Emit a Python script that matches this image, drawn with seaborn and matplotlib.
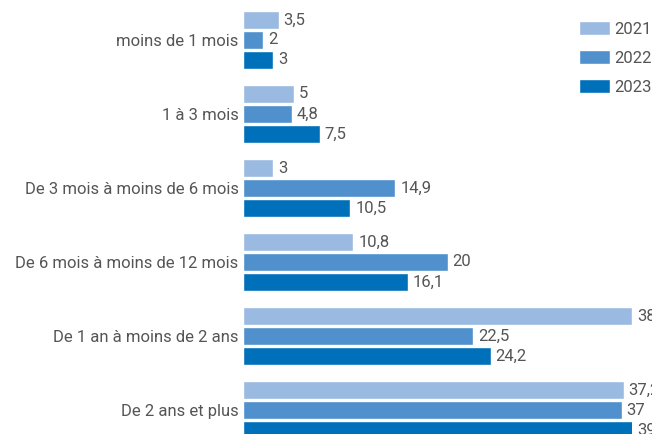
import matplotlib
matplotlib.use("Agg")
import matplotlib.pyplot as plt
import seaborn as sns
import pandas as pd

categories = ["moins de 1 mois", "1 à 3 mois", "De 3 mois à moins de 6 mois",
              "De 6 mois à moins de 12 mois", "De 1 an à moins de 2 ans", "De 2 ans et plus"]
years = ["2021", "2022", "2023"]
v2021 = [3.5, 5, 3, 10.8, 38, 37.2]
v2022 = [2, 4.8, 14.9, 20, 22.5, 37]
v2023 = [3, 7.5, 10.5, 16.1, 24.2, 39]
colors = ["#9BBAE1", "#4F90CD", "#0070BA"]

rows = []
for y, vals in zip(years, [v2021, v2022, v2023]):
    for c, v in zip(categories, vals):
        rows.append({"cat": c, "year": y, "val": v})
df = pd.DataFrame(rows)

sns.set_theme(style="white")
plt.rcParams["font.family"] = ["Roboto", "DejaVu Sans"]
txt = "#555555"
fs = 12

fig = plt.figure(figsize=(6.52, 4.34), dpi=100)
ax = fig.add_axes([242.7 / 652, 0, (632 - 242.7) / 652, 1])
sns.barplot(data=df, y="cat", x="val", hue="year", hue_order=years, order=categories,
            palette=colors, orient="h", width=0.81, gap=0.1, ax=ax, legend=True,
            saturation=1, err_kws={"linewidth": 0})
xmax = 38
ax.set_xlim(0, xmax)
ax.set_ylim(5.324, -0.54)
for s in ax.spines.values():
    s.set_visible(False)
ax.set_xticks([])
ax.set_xlabel("")
ax.set_ylabel("")
ax.tick_params(axis="y", length=0, pad=3, labelsize=fs, labelcolor=txt)

for cont in ax.containers:
    for bar in cont:
        w = bar.get_width()
        yc = bar.get_y() + bar.get_height() / 2
        lab = f"{w:g}".replace(".", ",")
        ax.annotate(lab, (min(w, xmax), yc), xytext=(3.5, 0), textcoords="offset points",
                    ha="left", va="center", fontsize=fs, color=txt, annotation_clip=False)

handles, labels = ax.get_legend_handles_labels()
ax.legend(handles, labels, loc="upper left", bbox_to_anchor=(579 / 652, 1 - 21 / 434),
          bbox_transform=fig.transFigure, frameon=False, fontsize=fs,
          handlelength=1.86, handleheight=0.9, handletextpad=0.24, labelspacing=0.8,
          borderpad=0, borderaxespad=0, labelcolor=txt)

fig.savefig("out.png", dpi=100)
